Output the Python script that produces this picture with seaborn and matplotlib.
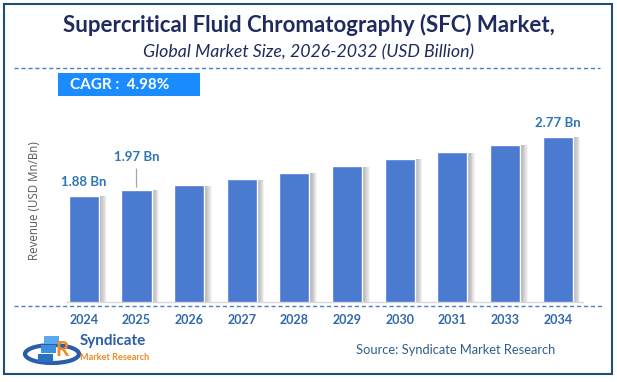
import matplotlib
matplotlib.use("Agg")
import matplotlib.pyplot as plt
import matplotlib.patheffects as pe
from matplotlib.patches import Rectangle, Ellipse
from matplotlib.lines import Line2D
import seaborn as sns
import pandas as pd

# chart data
years = ["2024", "2025", "2026", "2027", "2028", "2029", "2030", "2031", "2033", "2034"]
revenue = [1.88, 1.97, 2.04, 2.13, 2.23, 2.33, 2.44, 2.54, 2.65, 2.77]
labelled = {"2024": "1.88 Bn", "2025": "1.97 Bn", "2034": "2.77 Bn"}

title = "Supercritical Fluid Chromatography (SFC) Market,"
subtitle = "Global Market Size, 2026-2032 (USD Billion)"
cagr = "CAGR :  4.98%"
source = "Source: Syndicate Market Research"

df = pd.DataFrame({"year": years, "revenue": revenue})

W, H = 617, 382
sns.set_theme(style="white")
plt.rcParams["font.family"] = ["Lato", "DejaVu Sans"]

fig = plt.figure(figsize=(W / 100, H / 100), dpi=100)
fig.patch.set_facecolor("white")


def fx(px):
    return px / W


def fy(py):
    return 1 - py / H


ax = fig.add_axes([fx(67), fy(302), fx(583) - fx(67), fy(121.6) - fy(302)])
sns.barplot(data=df, x="year", y="revenue", order=years, color="#4a7bd1",
            saturation=1, width=0.57, ax=ax)

# soft shadow on the right of each bar
shadow = [pe.SimplePatchShadow(offset=(0.6 * k, -0.4), shadow_rgbFace="#444444", alpha=0.06)
          for k in range(1, 10)]
for bar in ax.patches:
    bar.set_path_effects(shadow + [pe.Normal()])

ax.set_xlim(-0.32, 9.48)
ax.set_ylim(0.28, 3.0)
ax.set_yticks([])
ax.set_xlabel("")
ax.set_ylabel("")
for s in ["top", "right", "left"]:
    ax.spines[s].set_visible(False)
ax.spines["bottom"].set_color("#d9d9d9")
ax.spines["bottom"].set_linewidth(1)
ax.tick_params(axis="x", length=0, pad=9)
for t in ax.get_xticklabels():
    t.set_fontweight("bold")
    t.set_fontsize(9)
    t.set_color("#2f68aa")

# value labels
for i, (yr, val) in enumerate(zip(years, revenue)):
    if yr not in labelled:
        continue
    off = 24 if yr == "2025" else 10
    ax.annotate(labelled[yr], (i, val), xytext=(0, off), textcoords="offset points",
                ha="center", va="center", fontsize=9.5, fontweight="bold", color="#2e75b6")
    if yr == "2025":
        ax.annotate("", (i, val), xytext=(0, 17), textcoords="offset points",
                    arrowprops=dict(arrowstyle="-", color="#a6a6a6", lw=0.9))

fig.text(fx(34), fy(201), "Revenue (USD Mn/Bn)", rotation=90, ha="center", va="center",
         fontsize=8.3, color="#595959", family=["Open Sans", "DejaVu Sans"])

# titles
fig.text(0.5, fy(25), title, ha="center", va="center", fontsize=16, fontweight="bold", color="#1f2b5e")
fig.text(0.5, fy(52), subtitle, ha="center", va="center", fontsize=12.8, style="italic", color="#1f2b5e")

# dashed separators
fig.add_artist(Line2D([fx(14), fx(600)], [fy(68), fy(68)], color="#4a7fc1", lw=1, ls=(0, (3, 2))))
fig.add_artist(Line2D([fx(14), fx(602)], [fy(306), fy(306)], color="#4a7fc1", lw=1, ls=(0, (3, 2))))

# CAGR box
fig.add_artist(Rectangle((fx(58), fy(96)), fx(200) - fx(58), fy(73) - fy(96), color="#1a8cff", lw=0))
fig.text(fx(70), fy(85), cagr, ha="left", va="center", fontsize=11, fontweight="bold", color="white")

# source
fig.text(fx(356), fy(350), source, ha="left", va="center", fontsize=9.3, color="#2e5f8a")

# logo (simplified)
fig.add_artist(Ellipse((fx(52), fy(354)), fx(54), 18 / H, fill=False, ec="#2a5ea8", lw=3))
for k, c in enumerate(["#2a6fc4", "#3b8fe0", "#5aa9ee"]):
    fig.add_artist(Rectangle((fx(38 + 3 * k), fy(362 - 9 * k)), fx(15), 8 / H, color=c, lw=0))
fig.text(fx(55), fy(350), "R", ha="left", va="center", fontsize=15, fontweight="bold", color="#f08a24")
fig.text(fx(80), fy(341), "Syndicate", ha="left", va="center", fontsize=11, fontweight="bold", color="#2a5ea8")
fig.text(fx(80), fy(357), "Market Research", ha="left", va="center", fontsize=6.6, fontweight="bold", color="#f08a24")

# outer border
fig.add_artist(Rectangle((fx(4), fy(374)), fx(612) - fx(4), fy(4) - fy(374), fill=False,
                         ec="#1f4e79", lw=1.5))

fig.savefig("out.png", dpi=100)
